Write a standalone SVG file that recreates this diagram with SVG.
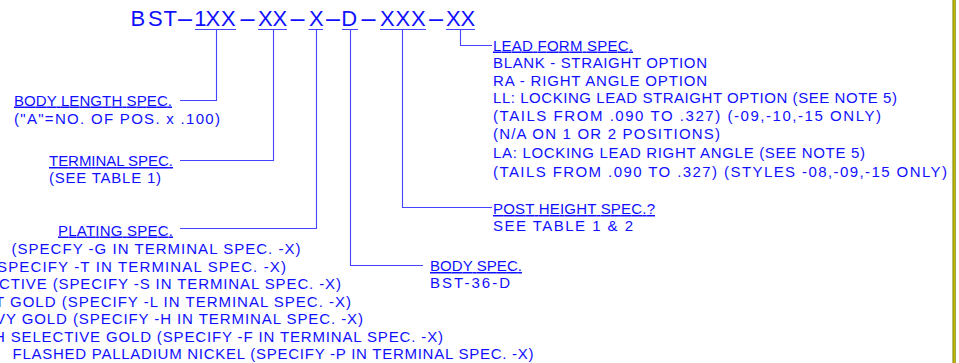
<svg xmlns="http://www.w3.org/2000/svg" width="959" height="363" viewBox="0 0 959 363">
<style>
text{font-family:"Liberation Sans",Arial,sans-serif;fill:#1010ff}
.s{font-size:15px}
.u{text-decoration:underline}
.t{font-size:22px}
.c{fill:none;stroke:#4444ff;stroke-width:1.1}
</style>
<rect width="959" height="363" fill="#ffffff"/>
<g id="title">
<text class="t" y="26"><tspan x="130.4 148 163.5">BST</tspan><tspan x="175.5" textLength="19" lengthAdjust="spacingAndGlyphs">-</tspan><tspan x="194.2 205.5 220.9">1XX</tspan><tspan x="238" textLength="19" lengthAdjust="spacingAndGlyphs">-</tspan><tspan x="257.9 272.4">XX</tspan><tspan x="288" textLength="19" lengthAdjust="spacingAndGlyphs">-</tspan><tspan x="308.9">X</tspan><tspan x="323.5" textLength="19" lengthAdjust="spacingAndGlyphs">-</tspan><tspan x="341.3">D</tspan><tspan x="359" textLength="19" lengthAdjust="spacingAndGlyphs">-</tspan><tspan x="380 395.5 411">XXX</tspan><tspan x="426.5" textLength="19" lengthAdjust="spacingAndGlyphs">-</tspan><tspan x="446 460.5">XX</tspan></text>
<path class="c" d="M195 29.5H236M258 29.5H287M308.5 29.5H323M342 29.5H358M380 29.5H426M446 29.5H475"/>
</g>
<g id="connectors">
<polyline class="c" points="180,100.5 216.5,100.5 216.5,29.5"/>
<polyline class="c" points="180,160.5 273.5,160.5 273.5,29.5"/>
<polyline class="c" points="180,228.5 316.5,228.5 316.5,29.5"/>
<polyline class="c" points="350.5,29.5 350.5,265.5 423,265.5"/>
<polyline class="c" points="402.5,29.5 402.5,207.5 492,207.5"/>
<polyline class="c" points="460.5,29.5 460.5,45.5 492,45.5"/>
</g>
<g id="body-length">
<text class="s u" x="14" y="105.5" textLength="158">BODY LENGTH SPEC.</text>
<text class="s" x="14" y="123.5" textLength="206">("A"=NO. OF POS. x .100)</text>
</g>
<g id="terminal">
<text class="s u" x="49" y="166" textLength="124">TERMINAL SPEC.</text>
<text class="s" x="49" y="183" textLength="112">(SEE TABLE 1)</text>
</g>
<g id="plating">
<text class="s u" x="58" y="235.5" textLength="115">PLATING SPEC.</text>
<text class="s" x="11.5" y="254" textLength="289">(SPECFY -G IN TERMINAL SPEC. -X)</text>
<text class="s" x="-3" y="271.5" textLength="289">SPECIFY -T IN TERMINAL SPEC. -X)</text>
<text class="s" x="-1" y="289" textLength="342">CTIVE (SPECIFY -S IN TERMINAL SPEC. -X)</text>
<text class="s" x="-5" y="306.5" textLength="356">T GOLD (SPECIFY -L IN TERMINAL SPEC. -X)</text>
<text class="s" x="-5" y="324" textLength="368">VY GOLD (SPECIFY -H IN TERMINAL SPEC. -X)</text>
<text class="s" x="-6" y="341.5" textLength="449">H SELECTIVE GOLD (SPECIFY -F IN TERMINAL SPEC. -X)</text>
<text class="s" x="12.5" y="359" textLength="521">FLASHED PALLADIUM NICKEL (SPECIFY -P IN TERMINAL SPEC. -X)</text>
</g>
<g id="body-spec">
<text class="s u" x="430" y="271" textLength="92">BODY SPEC.</text>
<text class="s" x="430" y="288" textLength="80">BST-36-D</text>
</g>
<g id="post-height">
<text class="s u" x="493" y="214" textLength="162">POST HEIGHT SPEC.?</text>
<text class="s" x="493" y="231" textLength="140">SEE TABLE 1 &amp; 2</text>
</g>
<g id="lead-form">
<text class="s u" x="493" y="50.5" textLength="140">LEAD FORM SPEC.</text>
<text class="s" x="493" y="68" textLength="214">BLANK - STRAIGHT OPTION</text>
<text class="s" x="493" y="85.5" textLength="214">RA - RIGHT ANGLE OPTION</text>
<text class="s" x="493" y="103" textLength="404">LL: LOCKING LEAD STRAIGHT OPTION (SEE NOTE 5)</text>
<text class="s" x="493" y="120.5" textLength="388">(TAILS FROM .090 TO .327) (-09,-10,-15 ONLY)</text>
<text class="s" x="493" y="138.5" textLength="227">(N/A ON 1 OR 2 POSITIONS)</text>
<text class="s" x="493" y="157.5" textLength="372">LA: LOCKING LEAD RIGHT ANGLE (SEE NOTE 5)</text>
<text class="s" x="493" y="177" textLength="454">(TAILS FROM .090 TO .327) (STYLES -08,-09,-15 ONLY)</text>
</g>
<rect x="952.5" y="0" width="3.2" height="363" fill="#7a7a00"/>
<rect x="953.6" y="0" width="1" height="363" fill="#e8e800"/>
</svg>
